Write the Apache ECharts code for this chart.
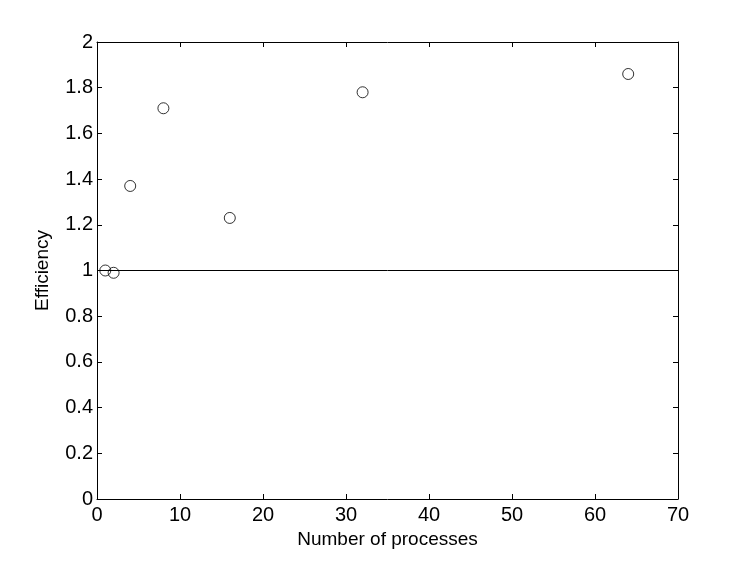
<!DOCTYPE html>
<html><head><meta charset="utf-8">
<script src="https://cdn.jsdelivr.net/npm/echarts@6/dist/echarts.min.js"></script>
<style>html,body{margin:0;padding:0;background:#fff}#c{width:747px;height:561px}</style>
</head><body><div id="c"></div>
<script>
const processes = [1, 2, 4, 8, 16, 32, 64];
const efficiency = [1.00, 0.99, 1.37, 1.71, 1.23, 1.78, 1.86];
const refLineX = [0, 70];
const refLineY = [1, 1];
const xTitle = 'Number of processes';
const yTitle = 'Efficiency';

const chart = echarts.init(document.getElementById('c'));
const font = 'Liberation Sans, Arial, Helvetica, sans-serif';
const axisCommon = {
  axisLine: {show: true, onZero: false, lineStyle: {color: '#000', width: 1}},
  axisTick: {show: true, inside: true, length: 5, lineStyle: {color: '#000'}},
  splitLine: {show: false}
};
chart.setOption({
  backgroundColor: '#fff',
  animation: false,
  grid: {left: 97, right: 69, top: 42, bottom: 62, containLabel: false},
  xAxis: [
    Object.assign({type: 'value', min: 0, max: 70, interval: 10, position: 'bottom',
      name: xTitle, nameLocation: 'middle', nameGap: 31,
      nameTextStyle: {fontFamily: font, fontSize: 19, color: '#000'},
      axisLabel: {fontFamily: font, fontSize: 20, color: '#000', margin: 6}}, axisCommon),
    Object.assign({type: 'value', min: 0, max: 70, interval: 10, position: 'top',
      axisLabel: {show: false}}, axisCommon)
  ],
  yAxis: [
    Object.assign({type: 'value', min: 0, max: 2, interval: 0.2, position: 'left',
      name: yTitle, nameLocation: 'middle', nameGap: 45, nameRotate: 90,
      nameTextStyle: {fontFamily: font, fontSize: 19, color: '#000'},
      axisLabel: {fontFamily: font, fontSize: 20, color: '#000', margin: 4,
        formatter: v => String(Math.round(v * 10) / 10)}}, axisCommon),
    Object.assign({type: 'value', min: 0, max: 2, interval: 0.2, position: 'right',
      axisLabel: {show: false}}, axisCommon)
  ],
  series: [
    {type: 'line', data: refLineX.map((x, i) => [x, refLineY[i]]), showSymbol: false,
      symbol: 'none', lineStyle: {color: '#000', width: 1}, silent: true, z: 2},
    {type: 'scatter', data: processes.map((x, i) => [x, efficiency[i]]), symbol: 'circle',
      symbolSize: 11, itemStyle: {color: 'rgba(0,0,0,0)', borderColor: '#000', borderWidth: 1}, z: 3}
  ]
});
</script></body></html>
